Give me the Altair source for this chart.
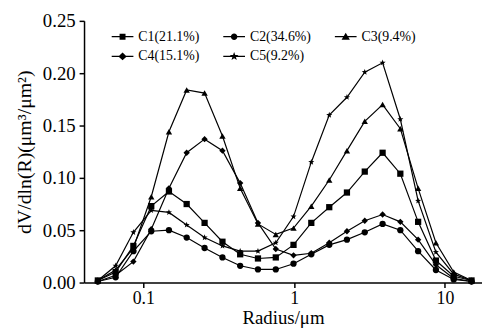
import math
import altair as alt
import pandas as pd

radius = [0.05, 0.0656, 0.086, 0.113, 0.148, 0.194, 0.255, 0.335, 0.439, 0.576, 0.756,
          0.991, 1.30, 1.71, 2.24, 2.94, 3.86, 5.06, 6.64, 8.71, 11.43, 15.0]

names = ["C1(21.1%)", "C2(34.6%)", "C3(9.4%)", "C4(15.1%)", "C5(9.2%)"]

c1 = [0.002, 0.010, 0.035, 0.073, 0.087, 0.075, 0.057, 0.039, 0.027, 0.023, 0.024,
      0.036, 0.057, 0.072, 0.086, 0.106, 0.124, 0.104, 0.058, 0.021, 0.006, 0.002]
c2 = [0.001, 0.005, 0.030, 0.049, 0.050, 0.043, 0.033, 0.024, 0.016, 0.0125, 0.0125,
      0.018, 0.027, 0.036, 0.041, 0.048, 0.056, 0.050, 0.030, 0.012, 0.003, 0.001]
c3 = [0.002, 0.012, 0.033, 0.082, 0.144, 0.184, 0.181, 0.140, 0.090, 0.056, 0.046,
      0.052, 0.073, 0.098, 0.126, 0.154, 0.170, 0.147, 0.090, 0.038, 0.010, 0.002]
c4 = [0.001, 0.007, 0.020, 0.051, 0.090, 0.124, 0.137, 0.126, 0.095, 0.057, 0.032,
      0.026, 0.028, 0.038, 0.049, 0.059, 0.065, 0.058, 0.041, 0.017, 0.004, 0.001]
c5 = [0.002, 0.016, 0.048, 0.069, 0.067, 0.055, 0.043, 0.035, 0.030, 0.030, 0.038,
      0.063, 0.115, 0.160, 0.177, 0.201, 0.210, 0.156, 0.078, 0.029, 0.008, 0.002]

series = [c1, c2, c3, c4, c5]
rows = []
for name, vals in zip(names, series):
    for r, v in zip(radius, vals):
        rows.append({"series": name, "radius": r, "value": v})
df = pd.DataFrame(rows)


def star_path(ro, ri, cx=0.0):
    pts = []
    for k in range(10):
        a = math.radians(-90 + 36 * k)
        rr = ro if k % 2 == 0 else ri
        pts.append((cx + rr * math.cos(a), rr * math.sin(a)))
    return "M" + "L".join(f"{x:.3f},{y:.3f}" for x, y in pts) + "Z"


plot_shapes = ["square", "circle", "triangle-up", "diamond", star_path(1.0, 0.42)]
plot_sizes = [40, 42, 60, 55, 95]

line_seg = "M-1.57,-0.09H1.57V0.09H-1.57Z"
legend_shapes = [
    line_seg + "M-0.43,-0.43H0.43V0.43H-0.43Z",
    line_seg + "M-0.47,0A0.47,0.47 0 1,1 0.47,0A0.47,0.47 0 1,1 -0.47,0Z",
    line_seg + "M0,-0.55L0.6,0.45L-0.6,0.45Z",
    line_seg + "M0,-0.55L0.6,0L0,0.55L-0.6,0Z",
    line_seg + star_path(0.65, 0.27),
]

FONT = "Liberation Serif"

x_enc = alt.X("radius:Q", scale=alt.Scale(type="log", domain=[0.0405, 17.6], nice=False),
              axis=alt.Axis(title="Radius/μm", values=[0.1, 1, 10], format="~g",
                            tickSize=5, labelPadding=2, titlePadding=1,
                            labelFontSize=18, titleFontSize=19))
y_enc = alt.Y("value:Q", scale=alt.Scale(domain=[0, 0.25], nice=False),
              axis=alt.Axis(title="dV/dln(R)(μm³/μm²)", values=[0, 0.05, 0.1, 0.15, 0.2, 0.25],
                            format=".2f", tickSize=5, labelPadding=4, titlePadding=8))

base = alt.Chart(df)

lines = base.mark_line(color="black", strokeWidth=1.2).encode(
    x=x_enc, y=y_enc, detail="series:N")

points = base.mark_point(filled=True, color="black", opacity=1).encode(
    x=x_enc, y=y_enc,
    shape=alt.Shape("series:N", scale=alt.Scale(domain=names, range=plot_shapes), legend=None),
    size=alt.Size("series:N", scale=alt.Scale(domain=names, range=plot_sizes), legend=None),
)

legend_layer = base.transform_filter("false").mark_point(filled=True, color="black", opacity=1).encode(
    x=x_enc, y=y_enc,
    shape=alt.Shape("series:N", scale=alt.Scale(domain=names, range=legend_shapes),
                    legend=alt.Legend(title=None, orient="none", legendX=32, legendY=9,
                                      direction="horizontal",
                                      columns=3, columnPadding=24, rowPadding=6,
                                      symbolSize=196, labelOffset=9,
                                      symbolFillColor="black", symbolStrokeWidth=0,
                                      labelFont=FONT, labelFontSize=14, labelColor="black",
                                      padding=0)),
)

chart = alt.layer(lines, points, legend_layer).resolve_scale(shape="independent").properties(
    width=403, height=265,
    autosize=alt.AutoSizeParams(type="none"),
    padding={"left": 77, "top": 11, "right": 0, "bottom": 44},
).configure_view(stroke=None).configure_axis(
    grid=False, domainColor="black", tickColor="black", domainWidth=1.5, tickWidth=1.5,
    labelFont=FONT, labelFontSize=19, labelColor="black",
    titleFont=FONT, titleFontSize=20, titleColor="black", titleFontWeight="normal",
)

chart.save("out.html", embed_options={"renderer": "svg", "actions": False})
